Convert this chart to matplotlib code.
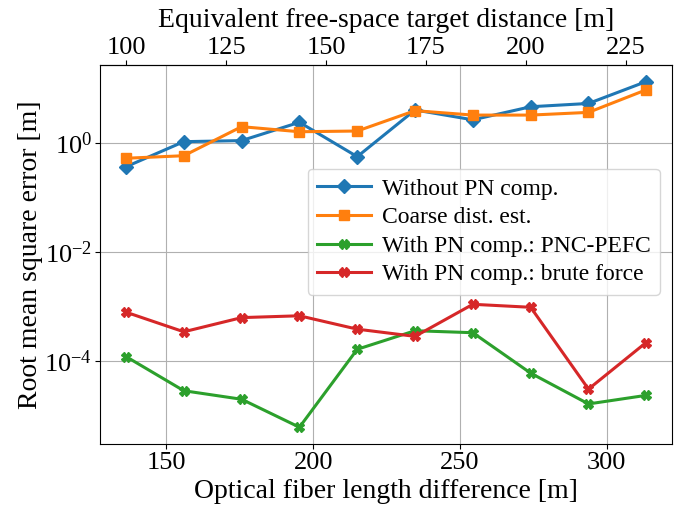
import numpy as np
import matplotlib
matplotlib.use("Agg")
import matplotlib.pyplot as plt
from matplotlib.ticker import NullLocator

plt.rcParams['font.family'] = ['Liberation Serif', 'DejaVu Serif']
plt.rcParams['mathtext.fontset'] = 'stix'

# Optical fiber length difference [m]
fiber_len = [136.2, 155.9, 175.6, 195.3, 215.0, 234.7, 254.4, 274.1, 293.8, 313.4]
n_fiber = 1.468  # conversion to equivalent free-space distance: d = L * n / 2

rmse_without = [0.37, 1.07, 1.12, 2.43, 0.567, 4.1, 2.7, 4.7, 5.4, 13.6]
rmse_coarse = [0.53, 0.59, 2.02, 1.63, 1.68, 3.98, 3.3, 3.3, 3.7, 9.6]
rmse_pnc = [1.19e-4, 2.8e-5, 1.95e-5, 5.96e-6, 1.62e-4, 3.56e-4, 3.27e-4, 5.9e-5, 1.6e-5, 2.3e-5]
rmse_brute = [7.8e-4, 3.4e-4, 6.2e-4, 6.7e-4, 3.8e-4, 2.8e-4, 1.09e-3, 9.6e-4, 3.0e-5, 2.15e-4]

labels = ["Without PN comp.", "Coarse dist. est.",
          "With PN comp.: PNC-PEFC", "With PN comp.: brute force"]
top_ticks = [100, 125, 150, 175, 200, 225]

fig = plt.figure(figsize=(6.84, 5.08), dpi=100)
ax = fig.add_axes([100/684, 1-444/508, 572/684, 379/508])

fs = 19
lab_fs = 20
lfs = 17
ax.plot(fiber_len, rmse_without, '-D', color='tab:blue', lw=2.2, ms=7, label=labels[0])
ax.plot(fiber_len, rmse_coarse, '-s', color='tab:orange', lw=2.2, ms=7, label=labels[1])
ax.plot(fiber_len, rmse_pnc, '-X', color='tab:green', lw=2.2, ms=7, label=labels[2])
ax.plot(fiber_len, rmse_brute, '-X', color='tab:red', lw=2.2, ms=7, label=labels[3])

ax.set_yscale('log')
ax.set_yticks([1e0, 1e-2, 1e-4])
ax.yaxis.set_minor_locator(NullLocator())
ax.set_ylim(10**(-5.533), 10**1.44)
ax.set_xticks([150, 200, 250, 300])
ax.grid(True, color='#b0b0b0', lw=0.8)
ax.tick_params(labelsize=fs, pad=2)
ax.set_xlabel("Optical fiber length difference [m]", fontsize=lab_fs, labelpad=4)
ax.set_ylabel("Root mean square error [m]", fontsize=lab_fs, labelpad=1)

sec = ax.secondary_xaxis('top', functions=(lambda L: L * n_fiber / 2, lambda d: d * 2 / n_fiber))
sec.set_xticks(top_ticks)
sec.tick_params(labelsize=fs, pad=1)
sec.set_xlabel("Equivalent free-space target distance [m]", fontsize=lab_fs, labelpad=7)

ax.legend(loc='center right', bbox_to_anchor=(1.0, 0.56), fontsize=lfs,
          handlelength=2.3, borderpad=0.4, labelspacing=0.3, handletextpad=0.45)

fig.savefig("out.png", dpi=100)
